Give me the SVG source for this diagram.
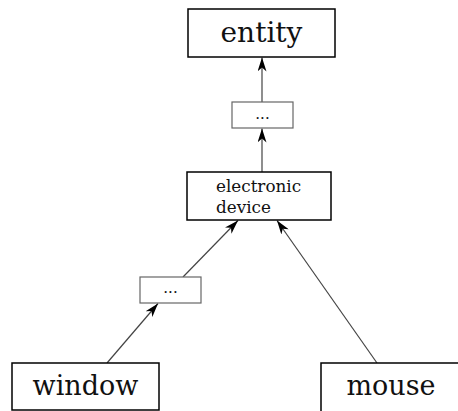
<svg xmlns="http://www.w3.org/2000/svg" width="458" height="411" viewBox="0 0 458 411">
<defs>
<style>
.big{fill:#fff;stroke:#000;stroke-width:1.5}
.small{fill:#fff;stroke:#666;stroke-width:1.2}
.t{font-family:"DejaVu Serif",serif;fill:#111}
.edge{stroke:#444;stroke-width:1.2;fill:none;marker-end:url(#ah)}
</style>
<marker id="ah" viewBox="0 0 14 9" refX="14" refY="4.5" markerWidth="14" markerHeight="9" markerUnits="userSpaceOnUse" orient="auto">
<path d="M0,0 L14,4.5 L0,9 L4,4.5 Z" fill="#000"/>
</marker>
</defs>
<rect width="458" height="411" fill="#fff"/>
<g id="connectors">
<line class="edge" x1="262" y1="102" x2="262" y2="57.5"/>
<line class="edge" x1="262" y1="172" x2="262" y2="128.5"/>
<line class="edge" x1="183" y1="277" x2="238" y2="220.5"/>
<line class="edge" x1="377" y1="363" x2="277" y2="220.5"/>
<line class="edge" x1="107" y1="363" x2="158" y2="303.5"/>
</g>
<g id="entity">
<rect class="big" x="188" y="9" width="147" height="48"/>
<text class="t" x="261.5" y="42" font-size="28" text-anchor="middle">entity</text>
</g>
<g id="dots1">
<rect class="small" x="232" y="102" width="61" height="26"/>
<text class="t" x="262.5" y="119" font-size="15" text-anchor="middle">...</text>
</g>
<g id="electronic-device">
<rect class="big" x="187" y="172" width="144" height="48"/>
<text class="t" x="216" y="192" font-size="16.8">electronic</text>
<text class="t" x="216" y="213" font-size="16.8">device</text>
</g>
<g id="dots2">
<rect class="small" x="140" y="277" width="61" height="26"/>
<text class="t" x="170.5" y="293" font-size="15" text-anchor="middle">...</text>
</g>
<g id="window">
<rect class="big" x="12" y="363" width="147" height="47"/>
<text class="t" x="85.5" y="395" font-size="27" text-anchor="middle">window</text>
</g>
<g id="mouse">
<rect class="big" x="321" y="363" width="147" height="50"/>
<text class="t" x="391" y="395" font-size="27" text-anchor="middle">mouse</text>
</g>
</svg>
